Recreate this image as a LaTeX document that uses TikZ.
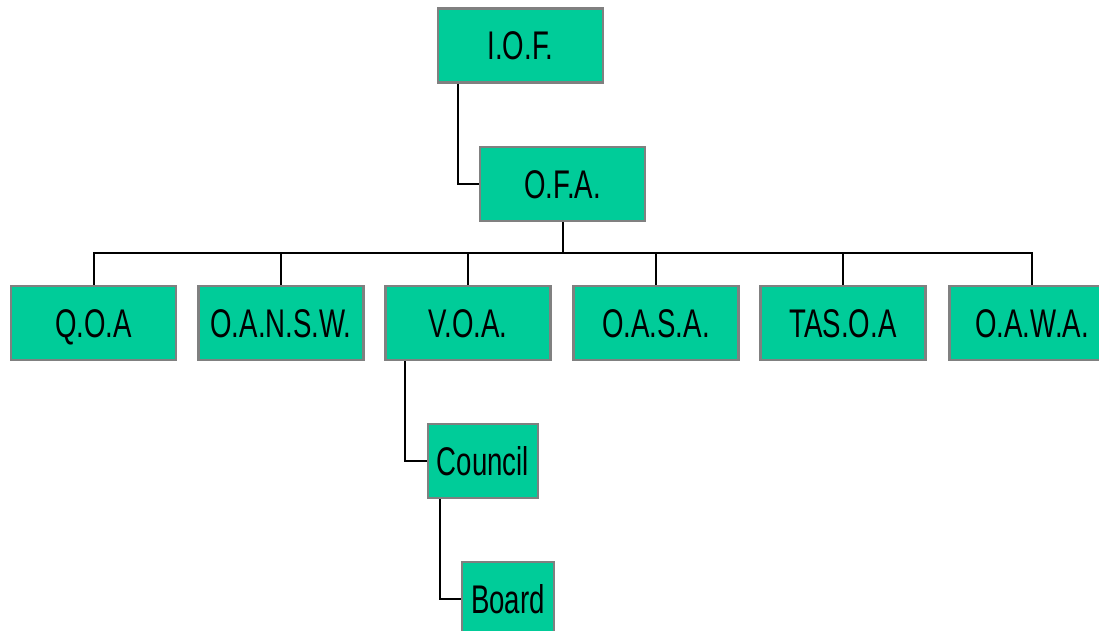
\documentclass[tikz,border=0pt]{standalone}
\usepackage{fontspec}
\setmainfont[FakeStretch=0.69]{Liberation Sans}
\usetikzlibrary{calc}
\definecolor{boxfill}{RGB}{0,204,153}
\definecolor{boxline}{RGB}{128,128,128}
\tikzset{
  orgbox/.style={draw=boxline, fill=boxfill, line width=2.2pt, minimum width=165pt, minimum height=74pt,
    inner sep=0pt, text height=28.6pt, text depth=0pt, font=\fontsize{40}{40}\selectfont},
  conn/.style={draw=black, line width=2pt}
}
\begin{document}
\begin{tikzpicture}[x=1pt,y=-1pt]
\useasboundingbox (0,0) rectangle (1099,631);
\clip (0,0) rectangle (1099,631);
\node[orgbox] (iof) at (520.5,45.5) {I.O.F.};
\node[orgbox] (ofa) at (562.5,184) {O.F.A.};
\node[orgbox] (qoa) at (93.5,323) {Q.O.A};
\node[orgbox] (oansw) at (281,323) {O.A.N.S.W.};
\node[orgbox] (voa) at (468,323) {V.O.A.};
\node[orgbox] (oasa) at (656,323) {O.A.S.A.};
\node[orgbox] (tasoa) at (843,323) {TAS.O.A};
\node[orgbox] (oawa) at (1032,323) {O.A.W.A.};
\node[orgbox, minimum width=110pt] (council) at (483,461) {Council};
\node[orgbox, minimum width=92pt] (board) at (508,599) {Board};
\coordinate (busy) at (0,253);
\draw[conn] ([xshift=21pt]iof.south west) |- (ofa.west);
\draw[conn] (ofa.south) -- (ofa.south |- busy);
\draw[conn] (qoa.north) -- (qoa.north |- busy) -- (oawa.north |- busy) -- (oawa.north);
\foreach \n in {oansw,voa,oasa,tasoa} {
  \draw[conn] (\n.north) -- (\n.north |- busy);
}
\draw[conn] ([xshift=21pt]voa.south west) |- (council.west);
\draw[conn] ([xshift=13pt]council.south west) |- (board.west);
\end{tikzpicture}
\end{document}
